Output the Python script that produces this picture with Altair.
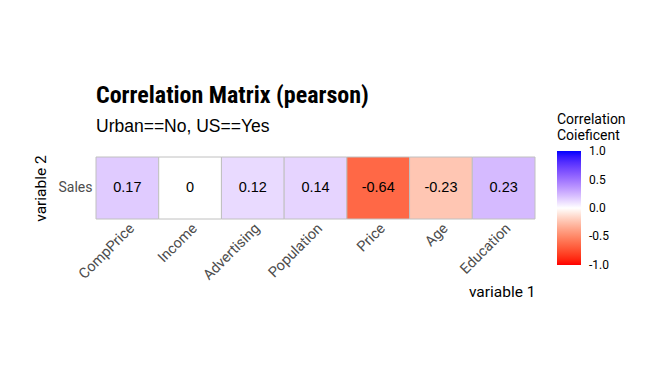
import altair as alt
import pandas as pd

var1 = ["CompPrice", "Income", "Advertising", "Population", "Price", "Age", "Education"]
var2 = ["Sales"] * 7
corr = [0.17, 0.0, 0.12, 0.14, -0.64, -0.23, 0.23]
labels = ["0.17", "0", "0.12", "0.14", "-0.64", "-0.23", "0.23"]

df = pd.DataFrame({"var1": var1, "var2": var2, "corr": corr, "label": labels})

cond = "Roboto Condensed, Liberation Sans Narrow, DejaVu Sans Condensed, Roboto"
reg = "Roboto"


# --- diverging red-white-blue colour ramp, interpolated in CIE Lab ---
def _srgb_to_lin(c):
    c = c / 255.0
    return c / 12.92 if c <= 0.04045 else ((c + 0.055) / 1.055) ** 2.4


def _lin_to_srgb(c):
    c = min(max(c, 0.0), 1.0)
    v = 12.92 * c if c <= 0.0031308 else 1.055 * c ** (1 / 2.4) - 0.055
    return int(round(v * 255))


def _rgb_to_lab(rgb):
    r, g, b = (_srgb_to_lin(c) for c in rgb)
    X = (0.4124 * r + 0.3576 * g + 0.1805 * b) / 0.95047
    Y = (0.2126 * r + 0.7152 * g + 0.0722 * b)
    Z = (0.0193 * r + 0.1192 * g + 0.9505 * b) / 1.08883
    f = lambda t: t ** (1 / 3) if t > 0.008856 else 7.787 * t + 16 / 116
    fx, fy, fz = f(X), f(Y), f(Z)
    return (116 * fy - 16, 500 * (fx - fy), 200 * (fy - fz))


def _lab_to_hex(lab):
    L, a, bb = lab
    fy = (L + 16) / 116
    fx = fy + a / 500
    fz = fy - bb / 200
    finv = lambda t: t ** 3 if t ** 3 > 0.008856 else (t - 16 / 116) / 7.787
    X, Y, Z = 0.95047 * finv(fx), finv(fy), 1.08883 * finv(fz)
    r = 3.2406 * X - 1.5372 * Y - 0.4986 * Z
    g = -0.9689 * X + 1.8758 * Y + 0.0415 * Z
    b = 0.0557 * X - 0.2040 * Y + 1.0570 * Z
    return "#%02x%02x%02x" % (_lin_to_srgb(r), _lin_to_srgb(g), _lin_to_srgb(b))


RED, WHITE, BLUE = _rgb_to_lab((255, 0, 0)), (100.0, 0.0, 0.0), _rgb_to_lab((0, 0, 255))


def ramp(v):
    if v == 0:
        return "#ffffff"
    t = min(1 - (1 - abs(v)) ** 1.35, 1.0)
    end = RED if v < 0 else BLUE
    return _lab_to_hex(tuple(w + t * (e - w) for w, e in zip(WHITE, end)))


stops = [i / 20 for i in range(-20, 21)]
stops[0], stops[-1] = -1.001, 1.001   # keep end labels centred on the bar ends
stop_colors = [ramp(max(min(s, 1.0), -1.0)) for s in stops]

base = alt.Chart(df).encode(
    x=alt.X("var1:N", sort=var1, title="variable 1",
            scale=alt.Scale(paddingInner=0, paddingOuter=0),
            axis=alt.Axis(labelAngle=315, labelAlign="right", labelBaseline="top",
                          labelFont=reg, labelFontSize=14.5, labelColor="#4d4d4d",
                          labelPadding=2, ticks=False, domain=False,
                          titleFont=reg, titleFontSize=15.5, titleFontWeight="normal",
                          titleColor="black", titleAnchor="end", titleAlign="right",
                          titleX=439, titleY=77, titleBaseline="alphabetic")),
    y=alt.Y("var2:N", title="variable 2",
            scale=alt.Scale(paddingInner=0, paddingOuter=0),
            axis=alt.Axis(labelFont=reg, labelFontSize=14, labelColor="#4d4d4d",
                          labelPadding=4, ticks=False, domain=False,
                          titleFont=reg, titleFontSize=15.5, titleFontWeight="normal",
                          titleColor="black", titleAngle=270, titleX=-48, titleY=31,
                          titleAlign="center", titleBaseline="bottom")),
)

tiles = base.mark_rect(stroke="#c0c0c0", strokeWidth=1).encode(
    color=alt.Color("corr:Q",
                    scale=alt.Scale(domain=stops, range=stop_colors, interpolate="rgb"),
                    legend=alt.Legend(title=["Correlation", "Coieficent"],
                                      orient="none", legendX=461, legendY=-44,
                                      direction="vertical", gradientLength=114,
                                      gradientThickness=24,
                                      values=[-1, -0.5, 0, 0.5, 1],
                                      labelExpr="replace(format(datum.value, '.1f'), '\u2212', '-')",
                                      titleFont=reg, titleFontSize=14, titleFontWeight="normal",
                                      titleColor="black", titleLineHeight=16, titlePadding=8,
                                      labelFont=reg, labelFontSize=12,
                                      labelOverlap=False,
                                      labelColor="black", labelOffset=8,
                                      gradientStrokeWidth=0))
)

text = base.mark_text(font="Liberation Sans", fontSize=14.5, color="black").encode(
    text="label:N"
)

chart = (tiles + text).properties(
    width=439, height=62,
    padding={"left": 88, "top": 149, "right": 129, "bottom": 160},
    autosize=alt.AutoSizeParams(type="none"),
    title=alt.TitleParams(
        text="Correlation Matrix (pearson)",
        subtitle="Urban==No, US==Yes",
        anchor="start", frame="group",
        font=cond, fontSize=24, fontWeight="bold", color="black",
        subtitleFont="Liberation Sans", subtitleFontSize=17.5, subtitleColor="black",
        subtitlePadding=10, offset=-22,
    ),
).configure_view(stroke=None)

chart.save("out.html", embed_options={"renderer": "svg", "actions": False})
